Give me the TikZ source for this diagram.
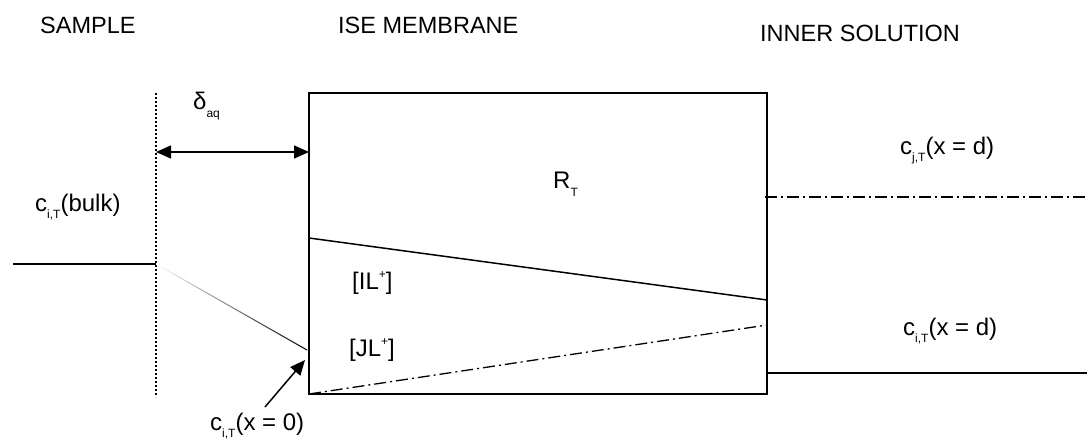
\documentclass[tikz,border=0pt]{standalone}
\usepackage{fontspec}
\setmainfont{Liberation Sans}
\usetikzlibrary{arrows.meta}
\newcommand{\lowsub}[1]{\raisebox{-0.33em}{\fontsize{12}{12}\selectfont #1}}
\newcommand{\highsup}[1]{\raisebox{0.42em}{\fontsize{12}{12}\selectfont #1}}
\begin{document}
\begin{tikzpicture}[x=1pt,y=-1pt,
  lbl/.style={inner sep=0pt, anchor=base west, font=\fontsize{24}{26}\selectfont},
  hdr/.style={inner sep=0pt, anchor=base west, font=\fontsize{23.5}{25}\selectfont},
  ln/.style={line width=1.5pt},
  dd/.style={line width=1.3pt, dash pattern=on 12pt off 4pt on 2pt off 4pt},
  tip/.style={-{Triangle[length=15pt,width=13pt]}}]
\useasboundingbox (0,0) rectangle (1087,441);
% headers
\node[hdr] (hs) at (40,34) {SAMPLE};
\node[hdr] (hm) at (338,34) {ISE MEMBRANE};
\node[hdr] (hi) at (760,42) {INNER SOLUTION};
% membrane box
\draw[ln] (309,93) rectangle (767,394);
\coordinate (bl) at (309,394);
\coordinate (tl) at (309,93);
% dotted boundary
\coordinate (dt) at (156,93);
\coordinate (db) at (156,397);
\draw[line width=1.5pt, dash pattern=on 2pt off 2pt] (dt) -- (db);
% delta arrow
\coordinate (da) at (156,152);
\coordinate (dbx) at (309,152);
\draw[ln, {Triangle[length=15pt,width=13pt]}-{Triangle[length=15pt,width=13pt]}] (da) -- (dbx);
\node[lbl] (delta) at (193,110) {δ\lowsub{aq}};
% sample bulk
\coordinate (s0) at (13,264);
\coordinate (s1) at (156,264);
\coordinate (s2) at (307,350);
\draw[ln] (s0) -- (s1);
\shade[left color=white, right color=black]
  (156,263.4) -- (307,349.4) -- (307,350.6) -- (156,264.6) -- cycle;
\node[lbl] (cbulk) at (35,211) {c\lowsub{i,T}(bulk)};
% arrow to x=0
\coordinate (a0) at (265,407);
\coordinate (a1) at (305,360);
\draw[ln, tip] (a0) -- (a1);
\node[lbl] (cx0) at (210,430) {c\lowsub{i,T}(x = 0)};
% membrane profiles
\coordinate (p0) at (309,238);
\coordinate (p1) at (767,300);
\draw[ln] (p0) -- (p1);
\coordinate (q1) at (767,325);
\draw[dd] (bl) -- (q1);
\node[lbl] (il) at (352,289) {[IL\highsup{+}]};
\node[lbl] (jl) at (349,356) {[JL\highsup{+}]};
\node[lbl] (rt) at (553,189) {R\lowsub{T}};
% inner solution
\coordinate (r0) at (765,197);
\coordinate (r1) at (1087,197);
\draw[dd] (r0) -- (r1);
\coordinate (u0) at (767,373);
\coordinate (u1) at (1087,373);
\draw[ln] (u0) -- (u1);
\node[lbl] (cjd) at (900,154) {c\lowsub{j,T}(x = d)};
\node[lbl] (cid) at (903,335) {c\lowsub{i,T}(x = d)};
\end{tikzpicture}
\end{document}
